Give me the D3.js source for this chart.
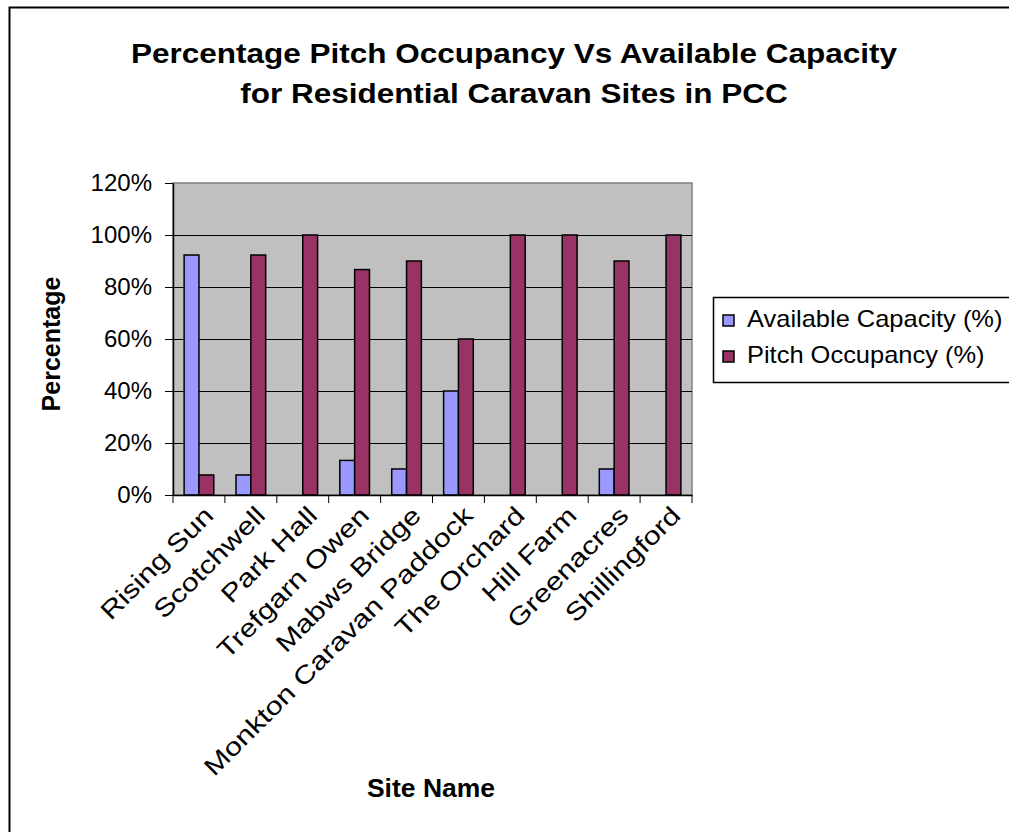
<!DOCTYPE html>
<html>
<head>
<meta charset="utf-8">
<script src="https://cdn.jsdelivr.net/npm/d3@7"></script>
<style>
  body { margin: 0; background: #fff; }
  svg { display: block; font-family: "Liberation Sans", Arial, sans-serif; }
</style>
</head>
<body>
<div id="chart"></div>
<script>
// chart data
const sites = ["Rising Sun", "Scotchwell", "Park Hall", "Trefgarn Owen", "Mabws Bridge",
  "Monkton Caravan Paddock", "The Orchard", "Hill Farm", "Greenacres", "Shillingford"];
const availableCapacity = [92.3, 7.7, 0, 13.3, 10, 40, 0, 0, 10, 0];
const pitchOccupancy = [7.7, 92.3, 100, 86.7, 90, 60, 100, 100, 90, 100];
const seriesNames = ["Available Capacity (%)", "Pitch Occupancy (%)"];
const yTicks = [0, 20, 40, 60, 80, 100, 120];
const titleLines = ["Percentage Pitch Occupancy Vs Available Capacity",
  "for Residential Caravan Sites in PCC"];

const colors = ["#9999FF", "#993366"];

const W = 1009, H = 832;
const margin = { top: 183, right: 317, bottom: 337, left: 173 };
const width = W - margin.left - margin.right,
  height = H - margin.top - margin.bottom;

// the original text is set a bit wider than the font's own metrics
function widen(sel, k) {
  sel.each(function () {
    const len = this.getComputedTextLength();
    d3.select(this).attr("textLength", len * k).attr("lengthAdjust", "spacingAndGlyphs");
  });
}

const svg = d3.select("#chart").append("svg")
  .attr("width", W).attr("height", H);

// outer chart border (runs off the right and bottom of the picture)
svg.append("rect")
  .attr("x", 9.5).attr("y", 7.5)
  .attr("width", 1010).attr("height", 840)
  .attr("fill", "none").attr("stroke", "#000").attr("stroke-width", 2);

// title
const title = svg.append("g").selectAll("text")
  .data(titleLines).join("text")
  .attr("x", 514)
  .attr("y", (d, i) => 63 + i * 40)
  .attr("text-anchor", "middle")
  .attr("font-size", 27).attr("font-weight", "bold")
  .text(d => d);
widen(title, 1.166);

const g = svg.append("g")
  .attr("transform", "translate(" + margin.left + "," + margin.top + ")");

const x0 = d3.scaleBand().domain(sites).range([0, width]).paddingInner(0);
const x1 = d3.scaleBand().domain([0, 1])
  .range([x0.bandwidth() * 0.75 / 3.5, x0.bandwidth() * (0.75 + 2) / 3.5]);
const y = d3.scaleLinear().domain([0, 120]).range([height, 0]);

// plot background
g.append("rect")
  .attr("width", width).attr("height", height)
  .attr("fill", "#C0C0C0").attr("stroke", "#808080").attr("stroke-width", 1.5);

// gridlines
g.append("g").selectAll("line")
  .data(yTicks.filter(d => d > 0 && d < 120)).join("line")
  .attr("x1", 0).attr("x2", width)
  .attr("y1", d => Math.round(y(d)) + 0.5).attr("y2", d => Math.round(y(d)) + 0.5)
  .attr("stroke", "#000").attr("stroke-width", 1);

// bars
const rows = sites.map((s, i) => ({ site: s, vals: [availableCapacity[i], pitchOccupancy[i]] }));
const groups = g.append("g").selectAll("g")
  .data(rows).join("g")
  .attr("transform", d => "translate(" + x0(d.site) + ",0)");
groups.selectAll("rect")
  .data(d => d.vals.map((v, k) => ({ v, k })).filter(e => e.v > 0))
  .join("rect")
  .attr("x", d => x1(d.k))
  .attr("width", x1.bandwidth())
  .attr("y", d => y(d.v))
  .attr("height", d => height - y(d.v))
  .attr("fill", d => colors[d.k])
  .attr("stroke", "#000").attr("stroke-width", 1.5);

// y axis
const yAxis = g.append("g")
  .call(d3.axisLeft(y).tickValues(yTicks).tickFormat(d => d + "%").tickSize(8).tickSizeOuter(0));
yAxis.select(".domain").attr("stroke", "#000").attr("stroke-width", 1.5);
yAxis.selectAll("text").attr("font-size", 24).attr("fill", "#000")
  .attr("font-family", "Liberation Sans, Arial, sans-serif").attr("x", -21);

// x axis
const xAxis = g.append("g")
  .attr("transform", "translate(0," + height + ")")
  .call(d3.axisBottom(x0).tickSize(0).tickSizeOuter(0));
xAxis.select(".domain").attr("stroke", "#000").attr("stroke-width", 1.5);
g.append("g").selectAll("line")
  .data(d3.range(sites.length + 1)).join("line")
  .attr("x1", d => d * x0.step()).attr("x2", d => d * x0.step())
  .attr("y1", height).attr("y2", height + 8)
  .attr("stroke", "#000").attr("stroke-width", 1);
const catLabels = xAxis.selectAll("text")
  .attr("font-size", 25).attr("fill", "#000")
  .attr("font-family", "Liberation Sans, Arial, sans-serif")
  .attr("text-anchor", "end")
  .attr("dy", 0).attr("y", 0)
  .attr("transform", "translate(16,22) rotate(-45)");
widen(catLabels, 1.22);

// axis titles
svg.append("text")
  .attr("transform", "translate(60,344) rotate(-90)")
  .attr("text-anchor", "middle")
  .attr("font-size", 25).attr("font-weight", "bold")
  .text("Percentage");
const xTitle = svg.append("text")
  .attr("x", 431).attr("y", 797)
  .attr("text-anchor", "middle")
  .attr("font-size", 25).attr("font-weight", "bold")
  .text("Site Name");
widen(xTitle, 1.06);

// legend
const legend = svg.append("g").attr("transform", "translate(713,297)");
legend.append("rect")
  .attr("x", 0.5).attr("y", 0.5).attr("width", 320).attr("height", 85)
  .attr("fill", "#fff").attr("stroke", "#000").attr("stroke-width", 1.5);
const items = legend.selectAll("g.item")
  .data(seriesNames).join("g").attr("class", "item")
  .attr("transform", (d, i) => "translate(10," + (30 + i * 36) + ")");
items.append("rect")
  .attr("x", 0).attr("y", -12).attr("width", 11).attr("height", 11)
  .attr("fill", (d, i) => colors[i]).attr("stroke", "#000").attr("stroke-width", 1.5);
const legText = items.append("text")
  .attr("x", 24).attr("y", 0)
  .attr("font-size", 24)
  .text(d => d);
widen(legText, 1.06);
</script>
</body>
</html>
